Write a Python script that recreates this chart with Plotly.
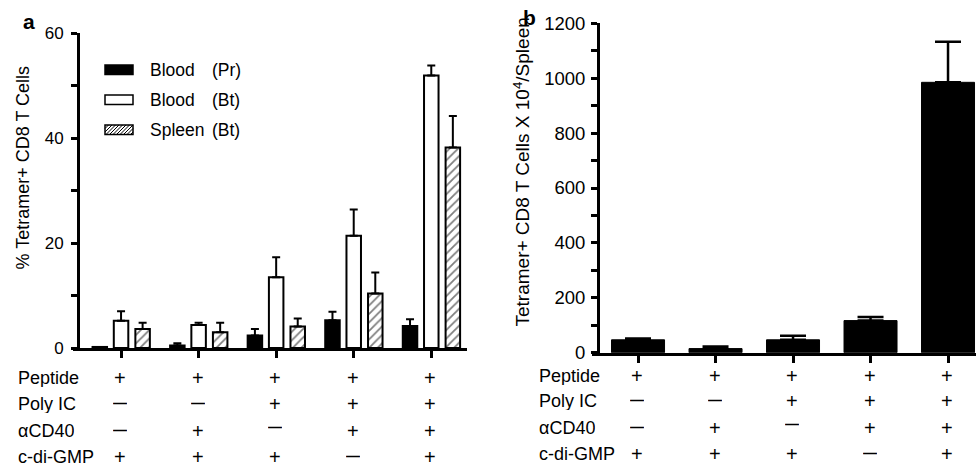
import plotly.graph_objects as go

W, H = 976, 467

# ---------------- data ----------------
conditions = ["c1", "c2", "c3", "c4", "c5"]
row_labels = ["Peptide", "Poly IC", "αCD40", "c-di-GMP"]
peptide = ["+", "+", "+", "+", "+"]
poly_ic = ["—", "—", "+", "+", "+"]
acd40 = ["—", "+", "—", "+", "+"]
cdigmp = ["+", "+", "+", "—", "+"]

series_names = ["Blood", "Blood", "Spleen"]
series_tags = ["(Pr)", "(Bt)", "(Bt)"]

blood_pr = [0.2, 0.5, 2.4, 5.3, 4.2]
blood_pr_err = [0.0, 0.4, 1.2, 1.6, 1.3]
blood_bt = [5.2, 4.4, 13.5, 21.4, 51.9]
blood_bt_err = [1.8, 0.4, 3.8, 5.0, 1.9]
spleen_bt = [3.6, 3.0, 4.1, 10.4, 38.2]
spleen_bt_err = [1.2, 1.8, 1.5, 4.0, 6.0]

spleen_counts = [47, 15, 47, 117, 985]
spleen_counts_err = [5, 8, 15, 13, 148]

FONT = "Liberation Sans, Arial, sans-serif"


def px(x):
    return x / W


def py(y):
    return 1 - y / H


fig = go.Figure()

bar_w = 0.187
offsets = [-0.368, -0.094, 0.184]
styles = [
    dict(color="black", line=dict(color="black", width=2)),
    dict(color="white", line=dict(color="black", width=2)),
    dict(color="white", line=dict(color="black", width=2),
         pattern=dict(shape="/", fgcolor="black", bgcolor="white", size=6, solidity=0.3)),
]
vals = [blood_pr, blood_bt, spleen_bt]
errs = [blood_pr_err, blood_bt_err, spleen_bt_err]
for i in range(3):
    fig.add_trace(go.Bar(
        x=conditions, y=vals[i], width=bar_w, offset=offsets[i],
        marker=styles[i],
        error_y=dict(type="data", array=errs[i], arrayminus=[0] * len(errs[i]),
                     symmetric=False, color="black", thickness=2, width=4),
        xaxis="x", yaxis="y", showlegend=False, hoverinfo="skip",
    ))

fig.add_trace(go.Bar(
    x=conditions, y=spleen_counts, width=0.684,
    marker=dict(color="black", line=dict(color="black", width=1)),
    error_y=dict(type="data", array=spleen_counts_err, arrayminus=[0] * 5,
                 symmetric=False, color="black", thickness=2.5, width=13),
    xaxis="x2", yaxis="y2", showlegend=False, hoverinfo="skip",
))

axis_common = dict(showgrid=False, zeroline=False, showline=True, linecolor="black",
                   linewidth=3, ticks="outside", tickcolor="black", tickwidth=3,
                   automargin=False)

fig.update_layout(
    width=W, height=H,
    margin=dict(l=0, r=0, t=0, b=0, pad=0),
    paper_bgcolor="white", plot_bgcolor="white",
    barmode="overlay",
    font=dict(family=FONT, color="black"),
    xaxis=dict(domain=[px(73), px(467)], range=[-0.62, 4.46], type="category",
               categoryorder="array", categoryarray=conditions, anchor="y",
               ticklen=7, showticklabels=False, **axis_common),
    yaxis=dict(domain=[py(348), py(33)], range=[0, 60], anchor="free", position=px(78),
               tick0=0, dtick=20, ticklen=6, tickfont=dict(size=17), ticklabelstandoff=4,
               minor=dict(dtick=10, ticks="outside", ticklen=6, tickwidth=3, tickcolor="black"),
               **axis_common),
    xaxis2=dict(domain=[px(592), 1.0], range=[-0.594, 4.361], type="category",
                categoryorder="array", categoryarray=conditions, anchor="y2",
                ticklen=7, showticklabels=False, **axis_common),
    yaxis2=dict(domain=[py(352.7), py(23.3)], range=[0, 1200], anchor="free", position=px(598),
                tick0=0, dtick=200, ticklen=6, tickfont=dict(size=18.5), ticklabelstandoff=2,
                minor=dict(dtick=100, ticks="outside", ticklen=6, tickwidth=3, tickcolor="black"),
                **axis_common),
)

ann = []
# panel letters
ann.append(dict(text="<b>a</b>", x=px(29), y=py(21), xref="paper", yref="paper",
                showarrow=False, font=dict(size=21), xanchor="center", yanchor="middle"))
ann.append(dict(text="<b>b</b>", x=px(529), y=py(18), xref="paper", yref="paper",
                showarrow=False, font=dict(size=21), xanchor="center", yanchor="middle"))
# axis titles
ann.append(dict(text="% Tetramer+ CD8 T Cells", x=px(22), y=py(167.5), xref="paper", yref="paper",
                textangle=-90, showarrow=False, font=dict(size=18), xanchor="center", yanchor="middle"))
ann.append(dict(text="Tetramer+ CD8 T Cells X 10<sup>4</sup>/Spleen", x=px(521), y=py(172.5),
                xref="paper", yref="paper", textangle=-90, showarrow=False,
                font=dict(size=19), xanchor="center", yanchor="middle"))

# condition tables
rows = [peptide, poly_ic, acd40, cdigmp]
panels = [("x", 17, [378, 404, 431, 457]), ("x2", 538, [376, 401, 428, 454])]
for xref, lx, rys in panels:
    for r, lab in enumerate(row_labels):
        ann.append(dict(text=lab, x=px(lx), y=py(rys[r]), xref="paper", yref="paper",
                        showarrow=False, font=dict(size=18), xanchor="left", yanchor="middle",
                        height=18, borderpad=0))
        for c, sign in enumerate(rows[r]):
            is_minus = sign != "+"
            ann.append(dict(text=f"<b>{sign}</b>" if is_minus else sign,
                            x=conditions[c], y=py(rys[r]), xref=xref, yref="paper",
                            showarrow=False, font=dict(size=14 if is_minus else 20),
                            xanchor="center", yanchor="middle", xshift=-1,
                            height=16, borderpad=0,
                            yshift=(4 if (r == 2 and c == 2) else 1) if is_minus else 0))

# legend (manual)
leg_rows = [70, 100, 130]
shapes = []
sx0, sx1 = 105, 133
for i, yc in enumerate(leg_rows):
    y0, y1 = yc - 5, yc + 4.5
    fill = "black" if i == 0 else "white"
    shapes.append(dict(type="rect", xref="paper", yref="paper", x0=px(sx0), x1=px(sx1),
                       y0=py(y1), y1=py(y0), fillcolor=fill, line=dict(color="black", width=1.5)))
    if i == 2:
        h = y1 - y0
        segs = []
        s = sx0 - h
        while s < sx1:
            ax_, ay_ = s, y1
            bx_, by_ = s + h, y0
            if ax_ < sx0:
                ay_ = y1 - (sx0 - ax_)
                ax_ = sx0
            if bx_ > sx1:
                by_ = y0 + (bx_ - sx1)
                bx_ = sx1
            if bx_ > ax_:
                segs.append(f"M{px(ax_)},{py(ay_)} L{px(bx_)},{py(by_)}")
            s += 3.5
        shapes.append(dict(type="path", xref="paper", yref="paper", path=" ".join(segs),
                           line=dict(color="black", width=1)))
    ann.append(dict(text=series_names[i], x=px(148), y=py(yc), xref="paper", yref="paper",
                    showarrow=False, font=dict(size=17.5), xanchor="left", yanchor="middle"))
    ann.append(dict(text=series_tags[i], x=px(210), y=py(yc), xref="paper", yref="paper",
                    showarrow=False, font=dict(size=17.5), xanchor="left", yanchor="middle"))

fig.update_layout(annotations=ann, shapes=shapes)
fig.write_html("out.html", config={"responsive": False, "displayModeBar": False},
               post_script="document.body.style.margin='0';document.body.style.overflow='hidden';")
